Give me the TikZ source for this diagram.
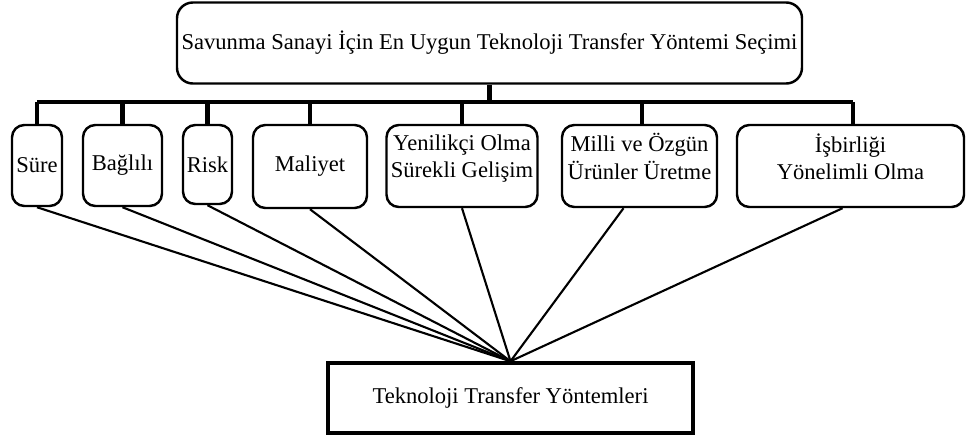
\documentclass[tikz,border=0pt]{standalone}
\usepackage{fontspec}
\setmainfont{Liberation Serif}
\tikzset{
  kutu/.style={draw,line width=1.4pt,rounded corners=7pt,align=center,inner sep=1pt,font=\fontsize{12.85}{15.5}\selectfont},
  hat/.style={line width=2.3pt},
  bag/.style={line width=1.2pt}
}
\begin{document}
\begin{tikzpicture}[x=0.02cm,y=-0.02cm]
%\draw[step=50,gray,very thin] (0,0) grid (966,440);
\useasboundingbox (0,0) rectangle (966,440);
\node[kutu,rounded corners=9pt,minimum width=625*0.02cm,minimum height=81*0.02cm] (ana) at (489.5,43) {Savunma Sanayi İçin En Uygun Teknoloji Transfer Yöntemi Seçimi};
\node[kutu,minimum width=50*0.02cm,minimum height=81*0.02cm] (sure) at (37,165.5) {Süre};
\node[kutu,minimum width=79*0.02cm,minimum height=81*0.02cm] (bagli) at (122.5,165.5) {Bağlılı};
\node[kutu,minimum width=49*0.02cm,minimum height=79*0.02cm] (risk) at (207.5,164.5) {Risk};
\node[kutu,minimum width=114*0.02cm,minimum height=83*0.02cm] (maliyet) at (310,166.5) {Maliyet};
\node[kutu,minimum width=151*0.02cm,minimum height=82*0.02cm] (yenilik) at (462,166) {Yenilikçi Olma\\Sürekli Gelişim\\[-4.5pt]};
\node[kutu,minimum width=155*0.02cm,minimum height=82*0.02cm] (milli) at (639.5,166) {Milli ve Özgün\\Ürünler Üretme\\[-4.5pt]};
\node[kutu,minimum width=227*0.02cm,minimum height=82*0.02cm] (isbir) at (850.5,166) {İşbirliği\\Yönelimli Olma\\[-4.5pt]};
\node[draw,line width=2pt,minimum width=365*0.02cm,minimum height=70*0.02cm,font=\fontsize{12.85}{15.5}\selectfont] (yontem) at (510.5,398) {Teknoloji Transfer Yöntemleri};
\coordinate (bus) at (0,102);
\draw[hat] (ana.south) -- (ana.south |- bus);
\draw[hat] (sure.north |- bus) -- ([xshift=2.5*0.02cm]isbir.north |- bus);
\foreach \k in {sure,bagli,risk,maliyet,yenilik}
  \draw[hat] (\k.north |- bus) -- (\k.north);
\draw[hat] ([xshift=2.5*0.02cm]milli.north |- bus) -- ([xshift=2.5*0.02cm]milli.north);
\draw[hat] ([xshift=2.5*0.02cm]isbir.north |- bus) -- ([xshift=2.5*0.02cm]isbir.north);
\foreach \k in {sure,bagli,risk,maliyet,yenilik}
  \draw[bag] (\k.south) -- (yontem.north);
\draw[bag] ([xshift=-16*0.02cm]milli.south) -- (yontem.north);
\draw[bag] ([xshift=-8*0.02cm]isbir.south) -- (yontem.north);
\end{tikzpicture}
\end{document}
